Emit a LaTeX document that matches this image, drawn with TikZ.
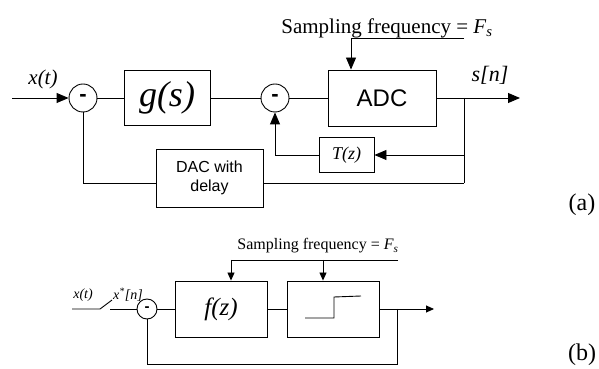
\documentclass[tikz,border=0pt]{standalone}
\usepackage{fontspec}
\setmainfont{Liberation Serif}
\setsansfont{Liberation Sans}
\usetikzlibrary{arrows.meta}

\begin{document}
\begin{tikzpicture}[line cap=butt,line join=miter,x=1pt,y=1pt,line width=0.9pt,
	bigarr/.style={-{Triangle[length=12pt,width=10pt]}},
	smallarr/.style={-{Triangle[length=8pt,width=7pt]}},
	sumA/.style={draw,circle,inner sep=0pt,minimum size=28pt,font=\fontsize{22}{22}\sffamily\bfseries},
	sumB/.style={draw,circle,inner sep=0pt,minimum size=20pt,font=\fontsize{15}{15}\sffamily\bfseries},
	blk/.style={draw,inner sep=0pt}]
			\useasboundingbox (0,0) rectangle (599,369);
			% (a)
			\node [sumA] (s1) at (83,271) {-};
			\node [blk,minimum width=86,minimum height=55,font=\fontsize{36}{36}\selectfont\itshape] (g) at (167,271) {g(s)};
			\node [sumA] (s2) at (275,271) {-};
			\node [blk,minimum width=108,minimum height=56,font=\fontsize{24}{24}\sffamily] (adc) at (382,271) {ADC};
			\node [blk,minimum width=55,minimum height=35,font=\fontsize{18}{18}\selectfont\itshape] (t) at (346.5,214) {T(z)};
			\node [blk,minimum width=107,minimum height=58,align=center,font=\fontsize{16}{19}\sffamily] (dac) at (209.5,191) {DAC with\\delay};
			\node [font=\fontsize{21}{21}\selectfont] (fsA) at (387,341) {Sampling frequency = \textit{F}\textsubscript{\textit{s}}};
			\node [font=\fontsize{21}{21}\selectfont\itshape] (xa) at (43,290) {x(t)};
			\node [font=\fontsize{22}{22}\selectfont\itshape] (sn) at (490,294) {s[n]};
			\node [font=\fontsize{24}{24}\selectfont] (la) at (582,164) {(a)};
			\coordinate (inA) at (12,271);
			\coordinate (brA) at (464,271);
			\coordinate (outA) at (520,271);
			\coordinate (clkA) at (351,331);
			\coordinate (clkAend) at (464,331);
			\coordinate (botA) at (464,186);
			\draw [bigarr] (inA) -- (s1);
			\draw (s1) -- (g);
			\draw (g) -- (s2);
			\draw (s2) -- (adc);
			\draw [bigarr] (adc) -- (outA);
			\draw [bigarr] (clkAend) -- (clkA) -- (clkA |- adc.north);
			\draw (brA) -- (botA);
			\draw [bigarr] (brA |- t) -- (t);
			\draw [bigarr] (t.west) -| (s2.south);
			\draw (botA) -- (dac.east |- botA);
			\draw (dac.west |- botA) -| (s1.south);
			% (b)
			\node [sumB] (s3) at (147,60) {-};
			\node [blk,minimum width=92,minimum height=56,font=\fontsize{25}{25}\selectfont\itshape] (f) at (221,60) {f(z)};
			\node [blk,minimum width=92,minimum height=56] (hold) at (333,60) {};
			\node [font=\fontsize{16}{16}\selectfont] (fsB) at (318,123) {Sampling frequency = \textit{F}\textsubscript{\textit{s}}};
			\node [font=\fontsize{14}{14}\selectfont\itshape] (xb) at (83,74) {x(t)};
			\node [font=\fontsize{14}{14}\selectfont\itshape] (xs) at (128,74) {x\textsuperscript{*}[n]};
			\node [font=\fontsize{24}{24}\selectfont] (lb) at (582,14) {(b)};
			\coordinate (inB) at (72,60);
			\coordinate (swA) at (100,60);
			\coordinate (swB) at (112,69);
			\coordinate (swC) at (110,60);
			\coordinate (clkB1) at (231,109);
			\coordinate (clkB2) at (398,109);
			\coordinate (clkB3) at (323,109);
			\coordinate (brB) at (397,60);
			\coordinate (outB) at (434,60);
			\coordinate (botB) at (397,5);
			\draw (inB) -- (swA) -- (swB);
			\draw (swC) -- (s3);
			\draw (s3) -- (f);
			\draw (f) -- (hold);
			\draw [smallarr] (hold) -- (outB);
			\draw (clkB2) -- (clkB1);
			\draw [smallarr] (clkB1) -- (clkB1 |- f.north);
			\draw [smallarr] (clkB3) -- (clkB3 |- hold.north);
			\draw (brB) -- (botB) -| (s3.south);
			\draw (305,51) -- (334,51) -- (334,72) -- (361,73);
		\end{tikzpicture}
\end{document}
